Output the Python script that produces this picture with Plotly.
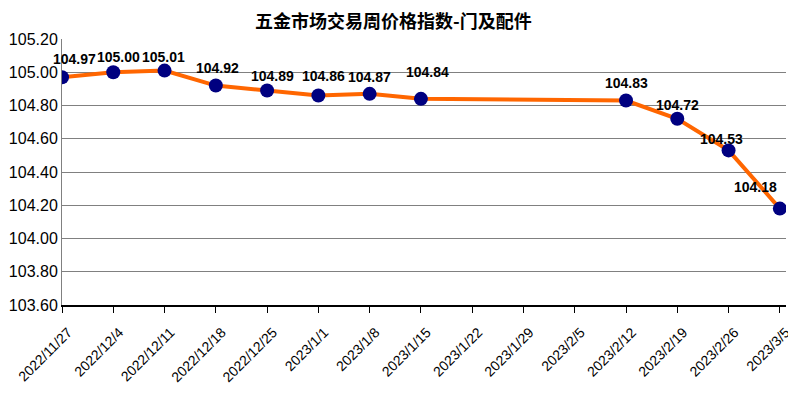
import plotly.graph_objects as go

dates = ["2022/11/27", "2022/12/4", "2022/12/11", "2022/12/18", "2022/12/25",
         "2023/1/1", "2023/1/8", "2023/1/15", "2023/1/22", "2023/1/29",
         "2023/2/5", "2023/2/12", "2023/2/19", "2023/2/26", "2023/3/5"]
values = [104.97, 105.00, 105.01, 104.92, 104.89, 104.86, 104.87, 104.84,
          None, None, None, 104.83, 104.72, 104.53, 104.18]
yticks = [103.60, 103.80, 104.00, 104.20, 104.40, 104.60, 104.80, 105.00, 105.20]
title_text = "五金市场交易周价格指数-门及配件"

# label offsets (px) from each point, as placed in the reference
label_dx = [12, 5, -1, 2, 5, 5, 0, 7, 0, 0, 0, 0, 0, -7, -24]
label_dy = [18, 15, 14, 18, 15, 20, 17, 27, 0, 0, 0, 18, 14, 11, 22]

xs = list(range(len(dates)))
fig = go.Figure()
fig.add_trace(go.Scatter(
    x=xs, y=values, mode="lines+markers", connectgaps=True,
    line=dict(color="#FF6600", width=4),
    marker=dict(color="#000080", size=14),
    hoverinfo="x+y",
))
for i, v in enumerate(values):
    if v is None:
        continue
    fig.add_annotation(x=xs[i], y=v, text=f"<b>{v:.2f}</b>", showarrow=False,
                       xanchor="center", yanchor="middle",
                       xshift=label_dx[i], yshift=label_dy[i],
                       font=dict(family="Arial, Liberation Sans", size=14, color="#000000"))

# title as an annotation above the plot area
fig.add_annotation(x=(385 - 54) / 724, y=1, xref="paper", yref="paper",
                   text=f"<b>{title_text}</b>", showarrow=False,
                   xanchor="center", yanchor="middle", yshift=19.5,
                   font=dict(family="Noto Sans CJK SC", size=18, color="#000000"))

# page body has an 8px margin, so figure is 8px smaller and margins shifted
fig.update_layout(
    width=788, height=385,
    margin=dict(l=54, r=10, t=31, b=88, autoexpand=False),
    paper_bgcolor="white", plot_bgcolor="white",
    showlegend=False,
    xaxis=dict(range=[0, 14.12], tickvals=xs, ticktext=dates, tickangle=-45,
               showgrid=False, showline=True, linecolor="#000000", linewidth=1.5,
               ticks="outside", ticklen=6, tickcolor="#000000",
               ticklabelstandoff=6, ticklabelshift=6,
               tickfont=dict(family="Arial, Liberation Sans", size=14, color="#000000"),
               zeroline=False, automargin=False),
    yaxis=dict(range=[103.6, 105.2], tickvals=yticks,
               ticktext=[f"{t:.2f}" for t in yticks],
               showgrid=True, gridcolor="#808080", gridwidth=1,
               showline=True, linecolor="#808080", linewidth=1,
               ticks="", tickfont=dict(family="Arial, Liberation Sans", size=16, color="#000000"),
               zeroline=False, automargin=False),
)
fig.write_html("out.html")
